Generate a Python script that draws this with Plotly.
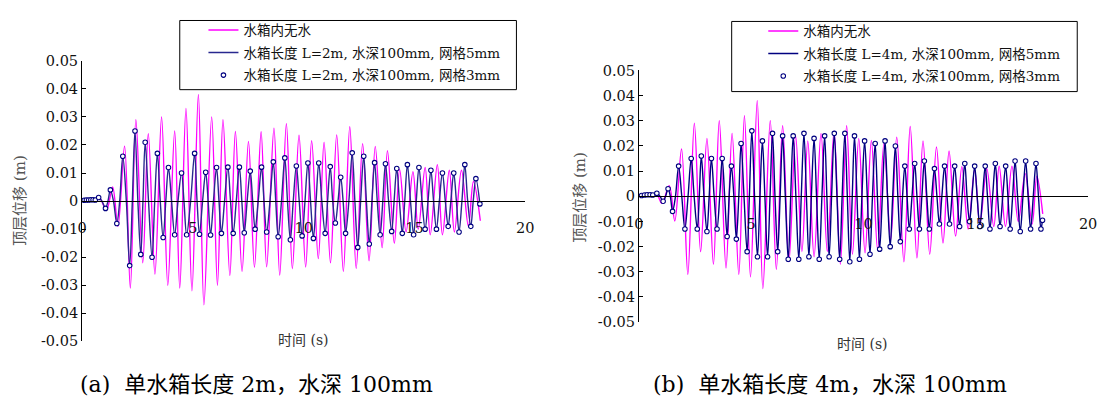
import plotly.graph_objects as go

# ---------------- data ----------------
X_TICKS = [0, 5, 10, 15, 20]
X_LABELS = ["0", "5", "10", "15", "20"]
Y_TICKS = [-0.05, -0.04, -0.03, -0.02, -0.01, 0, 0.01, 0.02, 0.03, 0.04, 0.05]
Y_LABELS = ["-0.05", "-0.04", "-0.03", "-0.02", "-0.01", "0",
            "0.01", "0.02", "0.03", "0.04", "0.05"]

NAMES_A = ["水箱内无水", "水箱长度 L=2m, 水深100mm, 网格5mm", "水箱长度 L=2m, 水深100mm, 网格3mm"]
NAMES_B = ["水箱内无水", "水箱长度 L=4m, 水深100mm, 网格5mm", "水箱长度 L=4m, 水深100mm, 网格3mm"]
CAPTION_A = "(a)  单水箱长度 2m，水深 100mm"
CAPTION_B = "(b)  单水箱长度 4m，水深 100mm"
X_TITLE = "时间 (s)"
Y_TITLE = "顶层位移 (m)"

# (a) no water in tank: extrema of the response
P2_T = [0.00, 0.30, 0.60, 0.80, 1.10, 1.38, 1.62, 1.92, 2.18, 2.43,
        2.74, 2.99, 3.29, 3.59, 3.87, 4.18, 4.41, 4.69, 4.96, 5.25,
        5.50, 5.85, 6.11, 6.36, 6.67, 6.92, 7.22, 7.51, 7.78, 8.08,
        8.33, 8.66, 8.92, 9.22, 9.49, 9.79, 10.09, 10.36, 10.66, 10.92,
        11.21, 11.49, 11.79, 12.08, 12.37, 12.66, 12.95, 13.23, 13.54, 13.78,
        14.09, 14.33, 14.62, 14.93, 15.17, 15.48, 15.71, 16.03, 16.26, 16.57,
        16.80, 17.12, 17.43, 17.66, 17.97]
P2_V = [0.0000, 0.0004, 0.0003, 0.0010, -0.0033, 0.0050, -0.0090, 0.0196, -0.0310, 0.0290,
        -0.0220, 0.0240, -0.0260, 0.0300, -0.0300, 0.0250, -0.0310, 0.0330, -0.0320, 0.0380,
        -0.0370, 0.0300, -0.0300, 0.0290, -0.0265, 0.0248, -0.0250, 0.0213, -0.0236, 0.0247,
        -0.0234, 0.0260, -0.0264, 0.0276, -0.0241, 0.0235, -0.0235, 0.0215, -0.0205, 0.0210,
        -0.0220, 0.0236, -0.0250, 0.0265, -0.0240, 0.0205, -0.0213, 0.0195, -0.0166, 0.0180,
        -0.0150, 0.0113, -0.0110, 0.0105, -0.0100, 0.0120, -0.0120, 0.0130, -0.0120, 0.0110,
        -0.0110, 0.0110, -0.0090, 0.0070, -0.0070]

# (a) L=2m, depth 100mm: extrema and zero crossings
B2_T = [0.00, 0.10, 0.20, 0.30, 0.40, 0.50, 0.60, 0.75, 0.90, 1.06,
        1.17, 1.28, 1.42, 1.57, 1.70, 1.84, 2.00, 2.15, 2.27, 2.39,
        2.52, 2.65, 2.75, 2.85, 3.00, 3.16, 3.28, 3.40, 3.53, 3.66,
        3.78, 3.90, 4.04, 4.18, 4.33, 4.49, 4.60, 4.72, 4.90, 5.08,
        5.19, 5.30, 5.44, 5.58, 5.69, 5.80, 5.93, 6.07, 6.18, 6.29,
        6.43, 6.58, 6.70, 6.82, 6.96, 7.10, 7.21, 7.32, 7.45, 7.59,
        7.70, 7.81, 7.95, 8.10, 8.21, 8.33, 8.48, 8.63, 8.74, 8.85,
        9.00, 9.15, 9.27, 9.40, 9.53, 9.67, 9.80, 9.93, 10.06, 10.19,
        10.31, 10.44, 10.56, 10.68, 10.82, 10.97, 11.08, 11.20, 11.31, 11.43,
        11.55, 11.67, 11.78, 11.89, 12.04, 12.19, 12.31, 12.44, 12.57, 12.71,
        12.83, 12.96, 13.08, 13.20, 13.32, 13.45, 13.57, 13.69, 13.83, 13.97,
        14.08, 14.20, 14.32, 14.45, 14.56, 14.68, 14.82, 14.96, 15.08, 15.20,
        15.34, 15.48, 15.61, 15.74, 15.86, 15.99, 16.12, 16.26, 16.39, 16.52,
        16.64, 16.77, 16.89, 17.01, 17.14, 17.27, 17.40, 17.54, 17.65, 17.77,
        17.95]
B2_V = [0, 0.0003, 0.0004, 0.0004, 0.0005, 0.0005, 0.0004, 0.0013, 0, -0.0026,
        0, 0.0040, 0, -0.0080, 0, 0.0160, 0, -0.0230, 0, 0.0250,
        0, -0.0190, 0, 0.0210, 0, -0.0200, 0, 0.0170, 0, -0.0130,
        0, 0.0120, 0, -0.0120, 0, 0.0100, 0, -0.0120, 0, 0.0170,
        0, -0.0118, 0, 0.0103, 0, -0.0121, 0, 0.0120, 0, -0.0115,
        0, 0.0121, 0, -0.0115, 0, 0.0121, 0, -0.0113, 0, 0.0107,
        0, -0.0100, 0, 0.0121, 0, -0.0110, 0, 0.0140, 0, -0.0127,
        0, 0.0154, 0, -0.0138, 0, 0.0125, 0, -0.0124, 0, 0.0136,
        0, -0.0133, 0, 0.0136, 0, -0.0115, 0, 0.0123, 0, -0.0078,
        0, 0.0085, 0, -0.0115, 0, 0.0172, 0, -0.0165, 0, 0.0160,
        0, -0.0153, 0, 0.0137, 0, -0.0120, 0, 0.0133, 0, -0.0108,
        0, 0.0116, 0, -0.0115, 0, 0.0130, 0, -0.0120, 0, 0.0120,
        0, -0.0100, 0, 0.0110, 0, -0.0100, 0, 0.0100, 0, -0.0090,
        0, 0.0100, 0, -0.0110, 0, 0.0130, 0, -0.0090, 0, 0.0080,
        -0.0010]

# (b) no water in tank
P4_T = [0.00, 0.30, 0.60, 0.80, 1.03, 1.35, 1.60, 1.90, 2.18, 2.47,
        2.75, 3.03, 3.32, 3.58, 3.88, 4.15, 4.45, 4.70, 4.97, 5.27,
        5.52, 5.85, 6.12, 6.40, 6.68, 6.98, 7.26, 7.52, 7.80, 8.11,
        8.39, 8.69, 8.97, 9.25, 9.51, 9.79, 10.07, 10.35, 10.63, 10.91,
        11.21, 11.48, 11.80, 12.08, 12.38, 12.65, 12.95, 13.25, 13.54, 13.81,
        14.10, 14.38, 14.66, 14.95, 15.18, 15.49, 15.80, 16.04, 16.32, 16.61,
        16.89, 17.20, 17.51, 17.72, 17.98]
P4_V = [0.0000, 0.0004, 0.0006, 0.0008, -0.0028, 0.0042, -0.0098, 0.0188, -0.0310, 0.0290,
        -0.0220, 0.0230, -0.0270, 0.0300, -0.0285, 0.0250, -0.0310, 0.0320, -0.0320, 0.0380,
        -0.0367, 0.0300, -0.0290, 0.0280, -0.0260, 0.0240, -0.0220, 0.0220, -0.0240, 0.0250,
        -0.0220, 0.0260, -0.0270, 0.0280, -0.0230, 0.0230, -0.0225, 0.0222, -0.0213, 0.0210,
        -0.0174, 0.0235, -0.0260, 0.0277, -0.0245, 0.0220, -0.0230, 0.0196, -0.0186, 0.0180,
        -0.0158, 0.0118, -0.0130, 0.0105, -0.0110, 0.0110, -0.0120, 0.0120, -0.0120, 0.0120,
        -0.0100, 0.0090, -0.0110, 0.0080, -0.0070]

# (b) L=4m, depth 100mm: extrema and zero crossings
B4_T = [0.00, 0.12, 0.25, 0.37, 0.50, 0.62, 0.80, 0.94, 1.08, 1.19,
        1.30, 1.40, 1.50, 1.63, 1.77, 1.91, 2.05, 2.19, 2.33, 2.46,
        2.60, 2.69, 2.78, 2.90, 3.03, 3.13, 3.23, 3.35, 3.48, 3.60,
        3.71, 3.82, 3.93, 4.02, 4.12, 4.23, 4.34, 4.45, 4.55, 4.68,
        4.82, 4.92, 5.03, 5.15, 5.28, 5.39, 5.50, 5.61, 5.73, 5.84,
        5.95, 6.06, 6.18, 6.29, 6.40, 6.52, 6.65, 6.76, 6.87, 6.99,
        7.12, 7.23, 7.35, 7.46, 7.57, 7.68, 7.80, 7.91, 8.03, 8.15,
        8.27, 8.37, 8.47, 8.58, 8.70, 8.82, 8.94, 9.05, 9.17, 9.28,
        9.39, 9.50, 9.60, 9.71, 9.82, 9.93, 10.05, 10.17, 10.29, 10.40,
        10.52, 10.62, 10.72, 10.84, 10.96, 11.07, 11.19, 11.30, 11.42, 11.53,
        11.64, 11.74, 11.84, 11.94, 12.04, 12.16, 12.28, 12.38, 12.49, 12.60,
        12.71, 12.82, 12.93, 13.04, 13.16, 13.27, 13.38, 13.49, 13.61, 13.72,
        13.83, 13.94, 14.06, 14.17, 14.28, 14.39, 14.51, 14.61, 14.72, 14.83,
        14.95, 15.06, 15.18, 15.30, 15.42, 15.52, 15.63, 15.75, 15.87, 15.97,
        16.08, 16.20, 16.33, 16.43, 16.53, 16.64, 16.75, 16.86, 16.98, 17.10,
        17.22, 17.33, 17.44, 17.56, 17.68, 17.79, 17.90, 17.97]
B4_V = [0, 0.0003, 0.0005, 0.0006, 0.0006, 0.0005, 0.0012, 0, -0.0020, 0,
        0.0030, 0, -0.0060, 0, 0.0120, 0, -0.0130, 0, 0.0150, 0,
        -0.0130, 0, 0.0160, 0, -0.0140, 0, 0.0150, 0, -0.0130, 0,
        0.0150, 0, -0.0160, 0, 0.0120, 0, -0.0170, 0, 0.0210, 0,
        -0.0220, 0, 0.0260, 0, -0.0240, 0, 0.0220, 0, -0.0240, 0,
        0.0250, 0, -0.0220, 0, 0.0240, 0, -0.0250, 0, 0.0240, 0,
        -0.0250, 0, 0.0250, 0, -0.0240, 0, 0.0230, 0, -0.0250, 0,
        0.0240, 0, -0.0240, 0, 0.0250, 0, -0.0250, 0, 0.0250, 0,
        -0.0260, 0, 0.0240, 0, -0.0250, 0, 0.0220, 0, -0.0230, 0,
        0.0210, 0, -0.0210, 0, 0.0220, 0, -0.0200, 0, 0.0200, 0,
        -0.0180, 0, 0.0120, 0, -0.0130, 0, 0.0130, 0, -0.0130, 0,
        0.0140, 0, -0.0130, 0, 0.0110, 0, -0.0110, 0, 0.0120, 0,
        -0.0110, 0, 0.0120, 0, -0.0120, 0, 0.0130, 0, -0.0100, 0,
        0.0120, 0, -0.0120, 0, 0.0120, 0, -0.0130, 0, 0.0130, 0,
        -0.0120, 0, 0.0120, 0, -0.0130, 0, 0.0140, 0, -0.0140, 0,
        0.0140, 0, -0.0130, 0, 0.0130, 0, -0.0130, -0.0095]

# ---------------- styling / layout ----------------
W, H = 1105, 407
FONT = "DejaVu Serif, Noto Sans CJK SC, serif"
PINK = "#FF00FF"
NAVY_A = "#28288F"
NAVY_B = "#000080"


def px(x):
    return x / W


def py(y):
    return 1 - y / H


fig = go.Figure()


def add_panel(xa, ya, leg, names, pt, pv, bt, bv, navy):
    fig.add_trace(go.Scatter(x=pt, y=pv, mode="lines", name=names[0],
                             line=dict(color=PINK, width=1.4, shape="spline", smoothing=1.0),
                             xaxis=xa, yaxis=ya, legend=leg, legendgroup=leg + "p"))
    fig.add_trace(go.Scatter(x=bt, y=bv, mode="lines", name=names[1],
                             line=dict(color=navy, width=1.4, shape="spline", smoothing=1.0),
                             xaxis=xa, yaxis=ya, legend=leg, legendgroup=leg + "b"))
    # 3mm-mesh samples shown as markers at the non-zero points of the record
    mt = [t for t, v in zip(bt, bv) if v != 0]
    mv = [v for v in bv if v != 0]
    fig.add_trace(go.Scatter(x=mt, y=mv, mode="markers", name=names[2],
                             marker=dict(symbol="circle", size=4.5, color="white",
                                         line=dict(color=NAVY_B, width=1.1)),
                             xaxis=xa, yaxis=ya, legend=leg, legendgroup=leg + "m"))


add_panel("x", "y", "legend", NAMES_A, P2_T, P2_V, B2_T, B2_V, NAVY_A)
add_panel("x2", "y2", "legend2", NAMES_B, P4_T, P4_V, B4_T, B4_V, NAVY_B)

ydomA = [py(347), py(55)]
ydomB = [py(327), py(65)]

tickfont = dict(family=FONT, size=14.5, color="#111111")

xcommon = dict(range=[0, 20], tickvals=X_TICKS, ticktext=X_LABELS, showgrid=False,
               zeroline=False, showline=True, linecolor="black", linewidth=1,
               ticks="", tickfont=tickfont, ticklabelstandoff=14, anchor="free")
ycommon = dict(range=[-0.05, 0.05], tickvals=Y_TICKS, ticktext=Y_LABELS, showgrid=False,
               zeroline=False, showline=True, linecolor="black", linewidth=1,
               ticks="inside", ticklen=4, tickcolor="black", tickfont=tickfont)

legfont = dict(family=FONT, size=13.5, color="#111111")


def ann(text, x, y, size, color, angle=0):
    return dict(text=text, x=px(x), y=py(y), xref="paper", yref="paper",
                xanchor="center", yanchor="middle", textangle=angle,
                showarrow=False, font=dict(family=FONT, size=size, color=color))


fig.update_layout(
    width=W, height=H, autosize=False,
    margin=dict(l=0, r=0, t=0, b=0),
    paper_bgcolor="white", plot_bgcolor="rgba(0,0,0,0)",
    xaxis=dict(domain=[px(78), px(527)], position=(ydomA[0] + ydomA[1]) / 2, **xcommon),
    yaxis=dict(domain=ydomA, anchor="x", **ycommon),
    xaxis2=dict(domain=[px(642), px(1097)], position=(ydomB[0] + ydomB[1]) / 2, **xcommon),
    yaxis2=dict(domain=ydomB, anchor="x2", **ycommon),
    legend=dict(x=px(177 + 24), y=py(7), xanchor="left", yanchor="top",
                bgcolor="rgba(0,0,0,0)", borderwidth=0, tracegroupgap=2,
                font=legfont, itemwidth=30),
    legend2=dict(x=px(736 + 32), y=py(8), xanchor="left", yanchor="top",
                 bgcolor="rgba(0,0,0,0)", borderwidth=0, tracegroupgap=2,
                 font=legfont, itemwidth=30),
    shapes=[
        dict(type="rect", xref="paper", yref="paper", x0=px(177), x1=px(518),
             y0=py(85), y1=py(13), line=dict(color="black", width=1)),
        dict(type="rect", xref="paper", yref="paper", x0=px(736), x1=px(1086),
             y0=py(87), y1=py(14), line=dict(color="black", width=1)),
    ],
    annotations=[
        ann(X_TITLE, 302, 346, 14, "#333333"),
        ann(X_TITLE, 869, 350, 14, "#333333"),
        ann(Y_TITLE, 15, 200, 15, "#555555", -90),
        ann(Y_TITLE, 583, 197, 15, "#555555", -90),
        ann(CAPTION_A, 255, 392, 22, "black"),
        ann(CAPTION_B, 836, 392, 22, "black"),
    ],
)

fig.write_html("out.html", config={"displayModeBar": False},
               post_script="document.body.style.margin='0';")
